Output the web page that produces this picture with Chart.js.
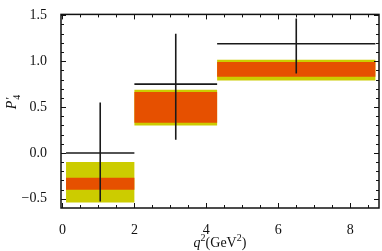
<!DOCTYPE html>
<html>
<head>
<meta charset="utf-8">
<script src="https://cdn.jsdelivr.net/npm/chart.js@4/dist/chart.umd.min.js"></script>
<style>
  html, body { margin: 0; padding: 0; background: #fff; }
  #c { display: block; }
</style>
</head>
<body>
<canvas id="c" width="382" height="251"></canvas>
<script>
// q^2 bins (GeV^2)
const binLo = [0.1, 2.0, 4.3];
const binHi = [2.0, 4.3, 8.7];
// data points with error bars
const pointX = [1.05, 3.15, 6.5];
const pointY = [0.0, 0.75, 1.19];
const errLow = [-0.53, 0.145, 0.865];
const errHigh = [0.55, 1.30, 1.465];
// prediction bands: outer (yellow) and inner (orange)
const outerLow = [-0.54, 0.30, 0.79];
const outerHigh = [-0.10, 0.69, 1.015];
const innerLow = [-0.40, 0.33, 0.83];
const innerHigh = [-0.27, 0.665, 0.99];
// tick values
const xTickVals = [];
for (var i = 0; i <= 17; i++) xTickVals.push(i * 0.5);
const yTickVals = [];
for (var j = -5; j <= 15; j++) yTickVals.push(j / 10);

const yellow = 'rgb(204,204,0)';
const orange = 'rgb(230,80,0)';

function box(lo, hi, x0, x1) {
  return [{x: x0, y: lo}, {x: x1, y: lo}, {x: x1, y: hi}, {x: x0, y: hi}, {x: x0, y: lo}];
}

var datasets = [];
for (var k = 0; k < binLo.length; k++) {
  // yellow band
  datasets.push({
    data: box(outerLow[k], outerHigh[k], binLo[k], binHi[k]),
    fill: 'shape', backgroundColor: yellow, borderColor: 'transparent',
    borderWidth: 0, pointRadius: 0, tension: 0, order: 3
  });
  // orange band
  datasets.push({
    data: box(innerLow[k], innerHigh[k], binLo[k], binHi[k]),
    fill: 'shape', backgroundColor: orange, borderColor: 'transparent',
    borderWidth: 0, pointRadius: 0, tension: 0, order: 2
  });
  // horizontal bar of the measurement
  datasets.push({
    data: [{x: binLo[k], y: pointY[k]}, {x: binHi[k], y: pointY[k]}],
    fill: false, borderColor: '#1a1a1a', borderWidth: 1.6, pointRadius: 0, order: 1
  });
  // vertical error bar
  datasets.push({
    data: [{x: pointX[k], y: errLow[k]}, {x: pointX[k], y: errHigh[k]}],
    fill: false, borderColor: '#1a1a1a', borderWidth: 1.6, pointRadius: 0, order: 1
  });
}

// draws pieces [text, font, dy] in a row centred on x
function drawRow(ctx, parts, cx, y) {
  var total = 0;
  parts.forEach(function(p) { ctx.font = p[1]; total += ctx.measureText(p[0]).width; });
  var x = cx - total / 2;
  ctx.textAlign = 'left';
  parts.forEach(function(p) {
    ctx.font = p[1];
    ctx.fillText(p[0], x, y + p[2]);
    x += ctx.measureText(p[0]).width;
  });
}

// frame with inward ticks on all four sides, plus axis titles
const framePlugin = {
  id: 'frame',
  afterDatasetsDraw(chart) {
    const ctx = chart.ctx;
    const a = chart.chartArea;
    const xs = chart.scales.x, ys = chart.scales.y;
    ctx.save();
    ctx.strokeStyle = '#111';
    ctx.lineWidth = 1.5;
    ctx.strokeRect(a.left, a.top, a.right - a.left, a.bottom - a.top);
    ctx.lineWidth = 1;
    ctx.beginPath();
    xTickVals.forEach(function(v) {
      const px = Math.round(xs.getPixelForValue(v)) + 0.5;
      const len = Math.abs(v / 2 - Math.round(v / 2)) < 1e-6 ? 5 : 3;
      ctx.moveTo(px, a.bottom); ctx.lineTo(px, a.bottom - len);
      ctx.moveTo(px, a.top); ctx.lineTo(px, a.top + len);
    });
    yTickVals.forEach(function(v) {
      const py = Math.round(ys.getPixelForValue(v)) + 0.5;
      const len = Math.abs(v * 2 - Math.round(v * 2)) < 1e-6 ? 5 : 3;
      ctx.moveTo(a.left, py); ctx.lineTo(a.left + len, py);
      ctx.moveTo(a.right, py); ctx.lineTo(a.right - len, py);
    });
    ctx.stroke();

    ctx.fillStyle = '#111';
    ctx.textBaseline = 'alphabetic';
    const it = 'italic 14px "Liberation Serif"';
    const rm = '14px "Liberation Serif"';
    const sm = '10px "Liberation Serif"';

    // x title: q^2 (GeV^2)
    drawRow(ctx, [['q', it, 0], ['2', sm, -6], ['(GeV', rm, 0], ['2', sm, -6], [')', rm, 0]],
      (a.left + a.right) / 2, 247);

    // y title: P'_4
    ctx.translate(16, 102);
    ctx.rotate(-Math.PI / 2);
    ctx.font = it; const wp = ctx.measureText('P').width;
    ctx.font = sm; const w4 = ctx.measureText('4').width;
    const x0 = -(wp + w4 + 1) / 2;
    ctx.font = it; ctx.fillText('P', x0, 0);
    ctx.font = 'italic 12px "Liberation Serif"'; ctx.fillText("'", x0 + wp + 0.5, -2);
    ctx.font = sm; ctx.fillText('4', x0 + wp + 1, 4);
    ctx.restore();
  }
};

var ctx = document.getElementById('c');
var chart = new Chart(ctx, {
  type: 'line',
  data: { datasets: datasets },
  plugins: [framePlugin],
  options: {
    responsive: false,
    animation: false,
    devicePixelRatio: 1,
    layout: { padding: { top: 9, right: 3, left: 0, bottom: 0 } },
    plugins: { legend: { display: false }, tooltip: { enabled: false } },
    scales: {
      x: {
        type: 'linear',
        min: -0.04, max: 8.8,
        afterBuildTicks: function(scale) { scale.ticks = xTickVals.map(function(v) { return {value: v}; }); },
        afterFit: function(scale) { scale.height = 43; },
        grid: { display: false },
        border: { display: false },
        ticks: {
          autoSkip: false, maxRotation: 0, padding: 6,
          color: '#111', font: { family: 'Liberation Serif', size: 14 },
          callback: function(v) { return Math.abs(v / 2 - Math.round(v / 2)) < 1e-6 ? String(Math.round(v)) : ''; }
        }
      },
      y: {
        type: 'linear',
        min: -0.6, max: 1.51,
        afterBuildTicks: function(scale) { scale.ticks = yTickVals.map(function(v) { return {value: v}; }); },
        afterFit: function(scale) { scale.width = 61; },
        grid: { display: false },
        border: { display: false },
        ticks: {
          autoSkip: false, padding: 6,
          color: '#111', font: { family: 'Liberation Serif', size: 14 },
          callback: function(v) {
            if (Math.abs(v * 2 - Math.round(v * 2)) > 1e-6) return '';
            return v.toFixed(1).replace('-', '\u2212');
          }
        }
      }
    }
  }
});
</script>
</body>
</html>
